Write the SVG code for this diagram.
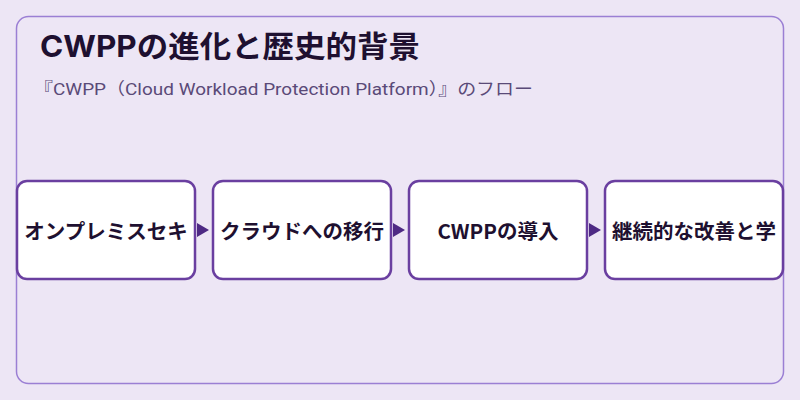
<svg xmlns="http://www.w3.org/2000/svg" width="800" height="400" viewBox="0 0 800 400">
<defs><style>
.n rect{fill:#fff;stroke:#6a3fa0;stroke-width:2.5}
.n text{font-family:"Noto Sans CJK JP",sans-serif;font-size:20.5px;font-weight:bold;fill:#1e1030;text-anchor:middle;dominant-baseline:central}
.c path{fill:#4e2a84}
</style></defs>
<rect width="800" height="400" fill="#ede6f5"/>
<rect x="16.5" y="16.5" width="767" height="367" rx="12" fill="none" stroke="#9b7fd4" stroke-width="1.5"/>
<text x="40" y="57" font-family="Inter,'Noto Sans CJK JP',sans-serif" font-size="30" font-weight="bold" fill="#1e1030" textLength="380" lengthAdjust="spacingAndGlyphs">CWPPの進化と歴史的背景</text>
<text x="34" y="95" font-family="Roboto,'Noto Sans CJK JP',sans-serif" font-size="17" fill="#5a4a78" textLength="499" lengthAdjust="spacingAndGlyphs">『CWPP（Cloud Workload Protection Platform）』のフロー</text>
<g class="c"><path d="M197,223 L209,230 L197,237Z"/><path d="M393,223 L405,230 L393,237Z"/><path d="M589,223 L601,230 L589,237Z"/></g>
<g id="n1" class="n"><rect x="17" y="181" width="178" height="98" rx="10"/><text x="106" y="230">オンプレミスセキ</text></g>
<g id="n2" class="n"><rect x="213" y="181" width="178" height="98" rx="10"/><text x="302" y="230">クラウドへの移行</text></g>
<g id="n3" class="n"><rect x="409" y="181" width="178" height="98" rx="10"/><text x="498" y="230">CWPPの導入</text></g>
<g id="n4" class="n"><rect x="605" y="181" width="178" height="98" rx="10"/><text x="694" y="230">継続的な改善と学</text></g>
</svg>
